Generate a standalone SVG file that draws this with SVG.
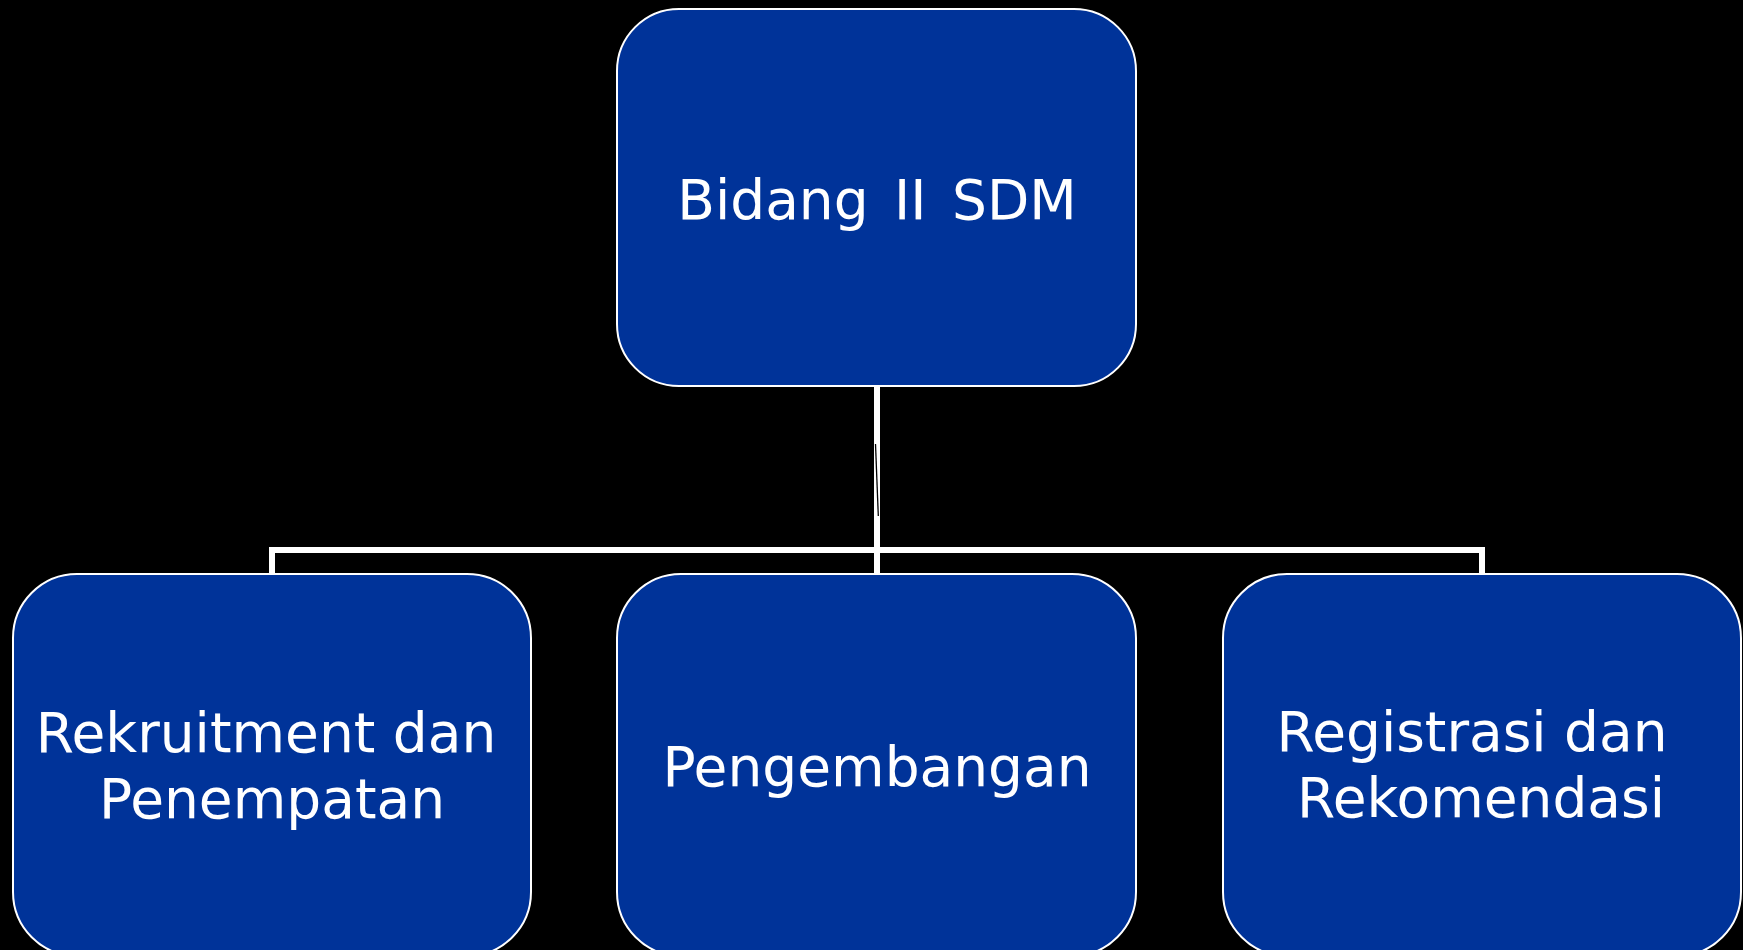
<svg xmlns="http://www.w3.org/2000/svg" width="1743" height="950" viewBox="0 0 1743 950">
  <style>
    .box { fill: #003399; stroke: #ffffff; stroke-width: 2; }
    .label { fill: #ffffff; font-family: "DejaVu Sans", Verdana, sans-serif; font-size: 55px; text-anchor: middle; }
    .link { fill: none; stroke: #ffffff; stroke-width: 6; }
  </style>
  <rect width="1743" height="950" fill="#000000"/>

  <!-- tree connectors -->
  <g id="connectors">
    <path class="link" d="M877,386 V550"/>
    <path class="link" d="M272,574 V550 H1482 V574"/>
    <path class="link" d="M877,550 V574"/>
    <line x1="875.5" y1="444" x2="878.3" y2="516" stroke="#000000" stroke-width="1.3"/>
  </g>

  <g id="node-bidang">
    <rect class="box" x="617" y="9" width="519" height="377" rx="62" ry="62"/>
    <text class="label" x="877" y="219" word-spacing="8">Bidang II SDM</text>
  </g>

  <g id="node-rekruitment">
    <rect class="box" x="13" y="574" width="518" height="382" rx="64" ry="64"/>
    <text class="label" x="266" y="752">Rekruitment dan</text>
    <text class="label" x="272" y="818">Penempatan</text>
  </g>

  <g id="node-pengembangan">
    <rect class="box" x="617" y="574" width="519" height="382" rx="64" ry="64"/>
    <text class="label" x="877" y="786">Pengembangan</text>
  </g>

  <g id="node-registrasi">
    <rect class="box" x="1223" y="574" width="518" height="382" rx="64" ry="64"/>
    <text class="label" x="1472" y="751">Registrasi dan</text>
    <text class="label" x="1481" y="817">Rekomendasi</text>
  </g>
</svg>
